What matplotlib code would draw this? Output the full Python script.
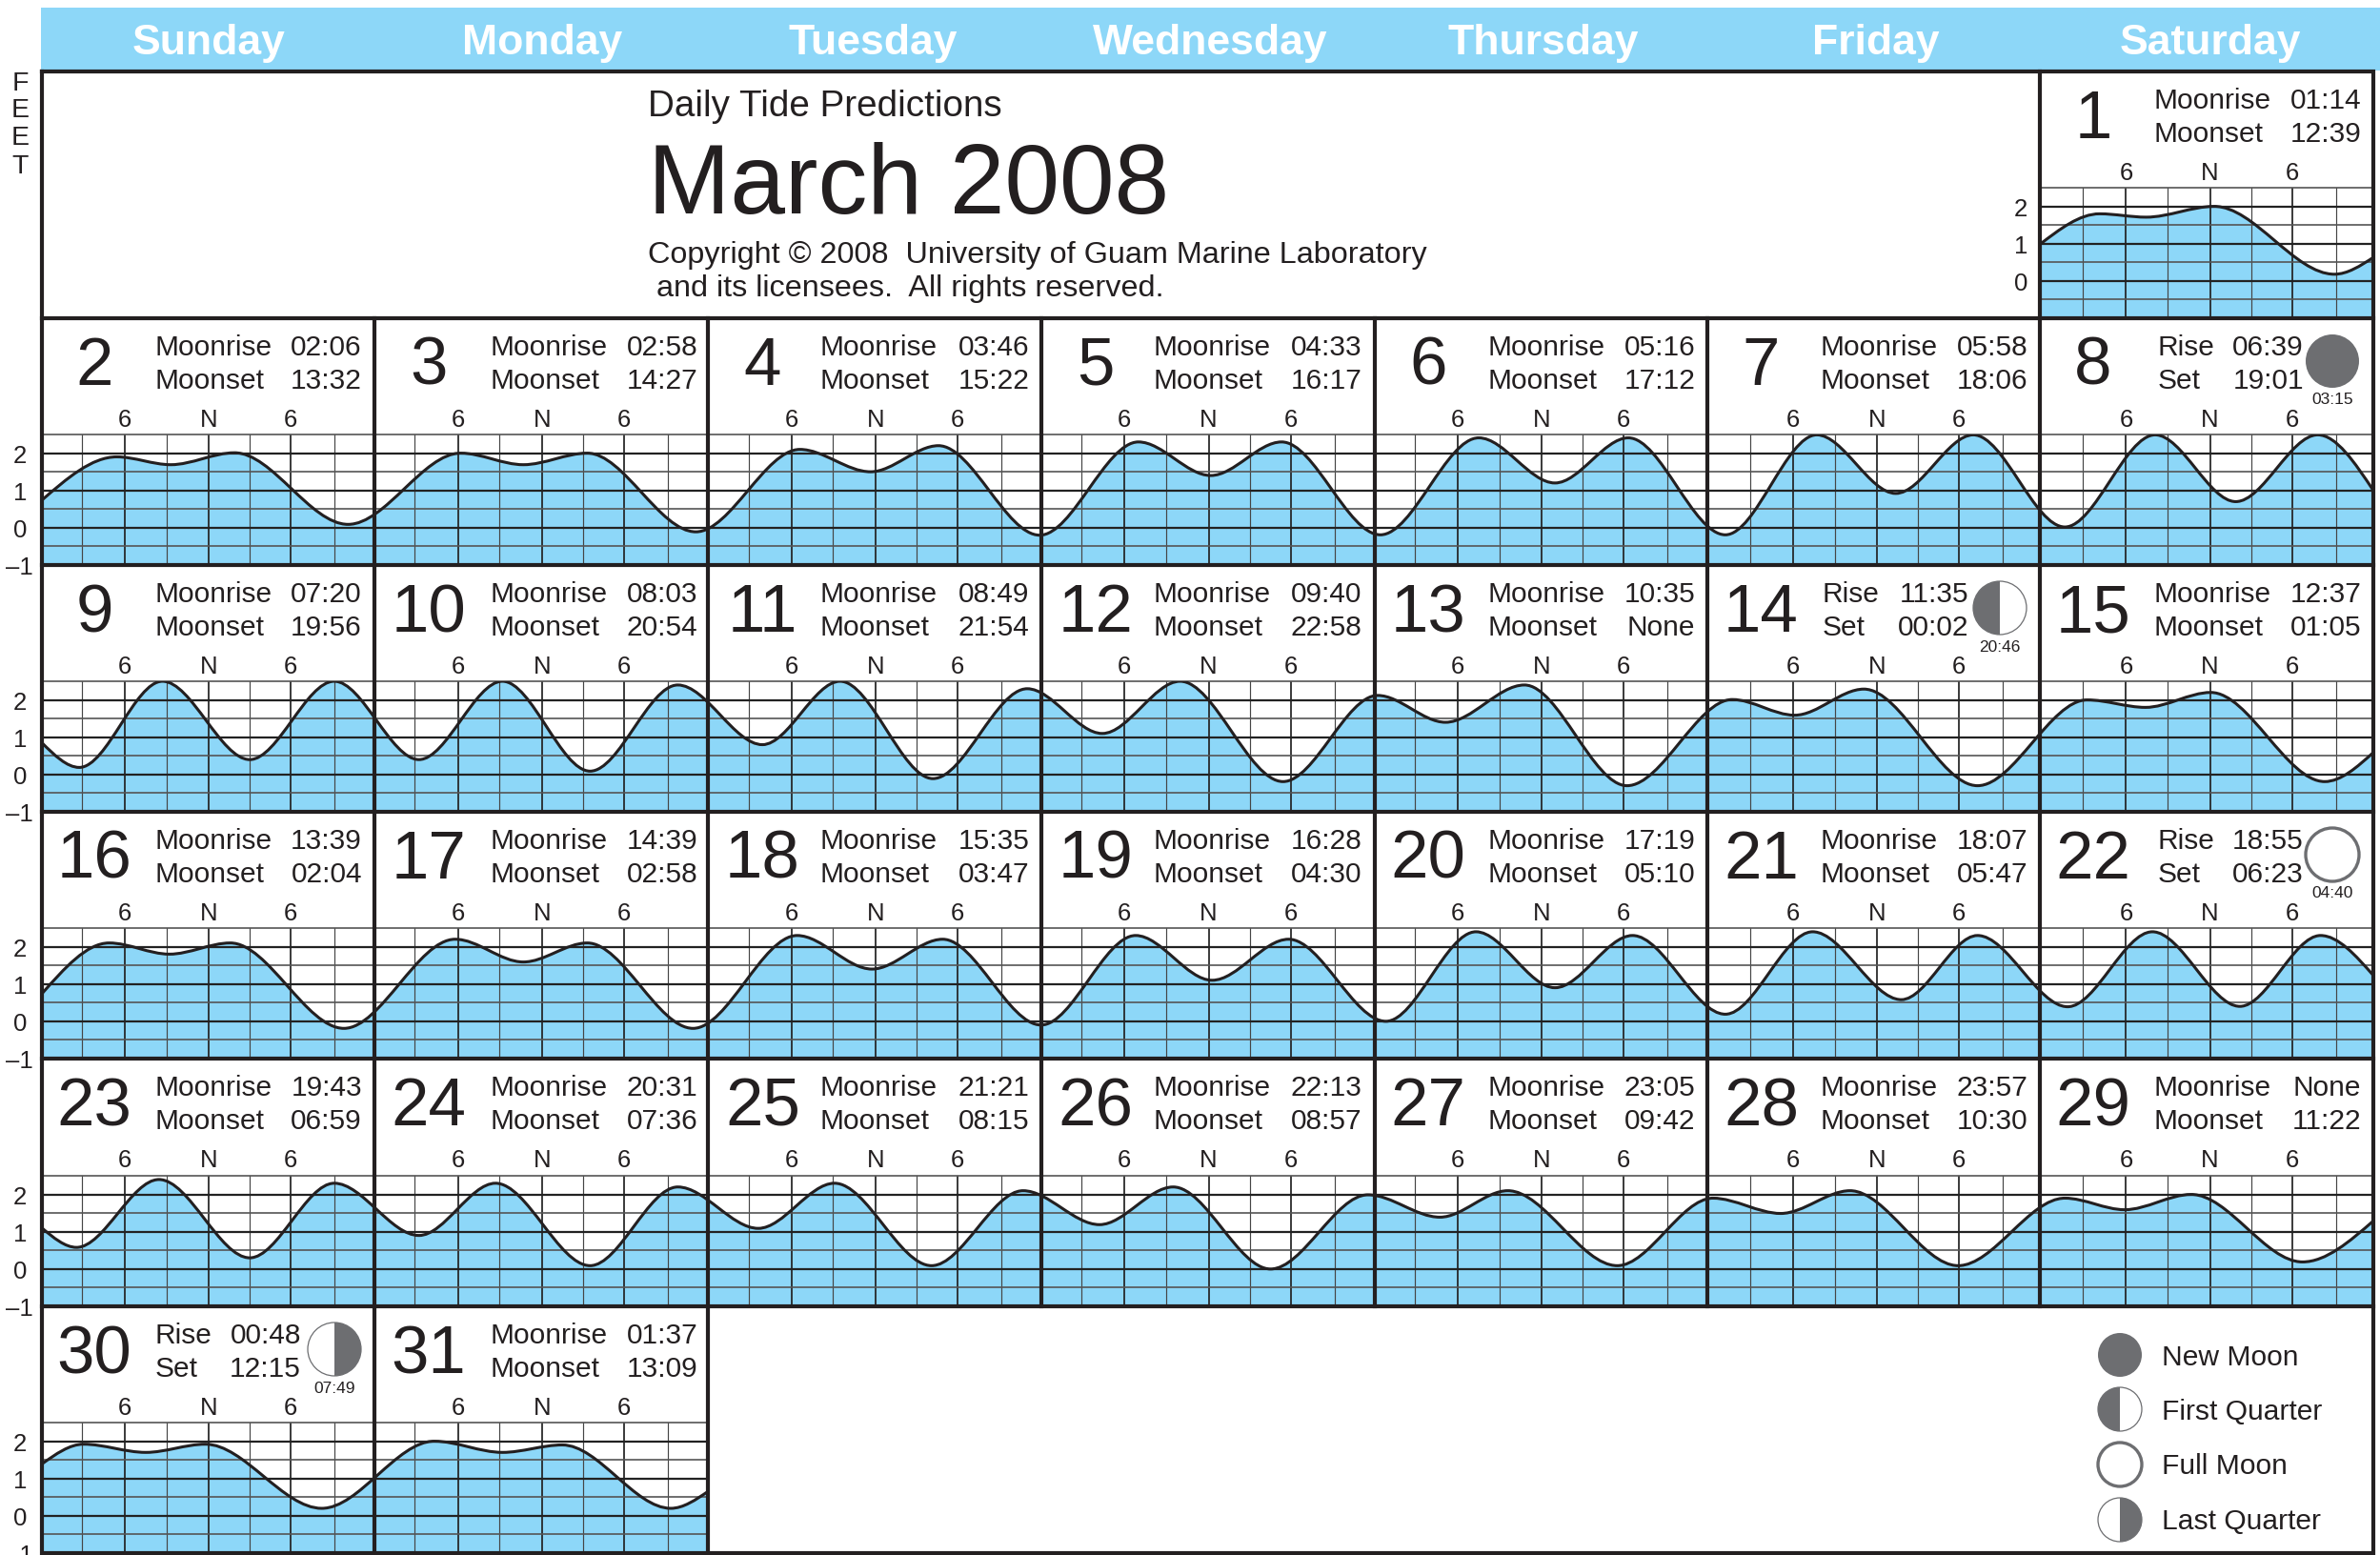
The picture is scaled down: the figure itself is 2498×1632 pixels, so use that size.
import matplotlib
matplotlib.use("Agg")
import matplotlib.pyplot as plt
from matplotlib.path import Path
from matplotlib.patches import PathPatch, Circle, Wedge, Rectangle

plt.rcParams['font.family'] = ['Liberation Sans', 'DejaVu Sans']

W, H = 2498, 1632
INK = '#231F20'
BLUE = '#8DD7F8'
MOON = '#6D6E71'

WEEKDAYS = ['Sunday', 'Monday', 'Tuesday', 'Wednesday', 'Thursday', 'Friday', 'Saturday']
WEEKDAY_X = [219, 569, 916, 1270, 1620, 1969, 2320]

MOONRISE = ['01:14', '02:06', '02:58', '03:46', '04:33', '05:16', '05:58', '06:39', '07:20', '08:03', '08:49',
            '09:40', '10:35', '11:35', '12:37', '13:39', '14:39', '15:35', '16:28', '17:19', '18:07', '18:55',
            '19:43', '20:31', '21:21', '22:13', '23:05', '23:57', 'None', '00:48', '01:37']
MOONSET = ['12:39', '13:32', '14:27', '15:22', '16:17', '17:12', '18:06', '19:01', '19:56', '20:54', '21:54',
           '22:58', 'None', '00:02', '01:05', '02:04', '02:58', '03:47', '04:30', '05:10', '05:47', '06:23',
           '06:59', '07:36', '08:15', '08:57', '09:42', '10:30', '11:22', '12:15', '13:09']
PHASE_DAYS = {8: ('new', '03:15'), 14: ('first', '20:46'), 22: ('full', '04:40'), 30: ('last', '07:49')}
LEGEND = [('new', 'New Moon'), ('first', 'First Quarter'), ('full', 'Full Moon'), ('last', 'Last Quarter')]

# Turning points of the tide, hours from Sunday 00:00 of each calendar row, and feet.
ROW0_T = [144, 148.3, 151.65, 156.55, 165.2, 168]
ROW0_H = [0.98, 1.80, 1.71, 2.00, 0.18, 0.63]
ROW1_T = [0, 5.4, 9.3, 13.9, 22.1, 30.2, 34.7, 39.3, 47.1, 54.6, 59.7, 64.6, 71.9, 79.0, 84.2, 89.3, 96.4,
          103.5, 109.0, 114.3, 121.3, 127.9, 133.6, 139.2, 145.8, 152.3, 158.1, 164.0, 168]
ROW1_H = [0.74, 1.90, 1.69, 2.01, 0.09, 2.00, 1.69, 2.00, -0.11, 2.10, 1.50, 2.20, -0.20, 2.30, 1.40, 2.30, -0.19,
          2.41, 1.20, 2.41, -0.19, 2.49, 0.92, 2.49, 0.02, 2.49, 0.70, 2.49, 1.00]
ROW2_T = [0, 2.7, 8.7, 15.0, 21.1, 27.2, 33.2, 39.5, 45.8, 51.9, 57.5, 64.2, 71.0, 76.4, 82.0, 89.4, 96.2,
          101.1, 106.8, 114.2, 121.8, 126.3, 131.3, 139.5, 147.4, 151.6, 156.3, 164.5, 168]
ROW2_H = [0.85, 0.19, 2.50, 0.40, 2.50, 0.40, 2.50, 0.09, 2.40, 0.80, 2.50, -0.11, 2.30, 1.10, 2.50, -0.19, 2.12,
          1.40, 2.40, -0.30, 2.01, 1.59, 2.29, -0.30, 2.00, 1.80, 2.20, -0.19, 0.59]
ROW3_T = [0, 4.85, 9.2, 13.6, 21.8, 29.8, 34.7, 39.3, 46.9, 54.4, 59.8, 64.9, 72.0, 78.8, 84.3, 89.8, 96.8,
          103.3, 109.0, 114.6, 121.3, 127.6, 134.0, 139.5, 146.0, 152.1, 158.4, 164.2, 168]
ROW3_H = [0.74, 2.10, 1.80, 2.10, -0.19, 2.20, 1.59, 2.10, -0.19, 2.30, 1.40, 2.20, -0.10, 2.30, 1.10, 2.20, 0.00,
          2.40, 0.90, 2.30, 0.19, 2.40, 0.58, 2.30, 0.39, 2.40, 0.40, 2.30, 1.23]
ROW4_T = [0, 2.5, 8.45, 15.0, 21.1, 27.2, 32.7, 39.5, 45.8, 51.6, 57.1, 64.1, 70.7, 76.2, 81.5, 88.5, 95.5,
          100.7, 105.6, 113.5, 120.4, 125.3, 130.3, 138.1, 145.8, 150.1, 154.9, 162.9, 168]
ROW4_H = [1.10, 0.58, 2.40, 0.30, 2.30, 0.90, 2.30, 0.09, 2.20, 1.09, 2.30, 0.09, 2.10, 1.19, 2.20, 0.00, 1.99,
          1.39, 2.10, 0.09, 1.90, 1.49, 2.10, 0.09, 1.90, 1.59, 2.00, 0.19, 1.29]
ROW5_T = [0, 3.0, 7.5, 11.8, 20.2, 28.3, 33.2, 37.5, 45.3, 48]
ROW5_H = [1.39, 1.92, 1.70, 1.92, 0.20, 2.00, 1.70, 1.90, 0.20, 0.66]
ROWS_T = [ROW0_T, ROW1_T, ROW2_T, ROW3_T, ROW4_T, ROW5_T]
ROWS_H = [ROW0_H, ROW1_H, ROW2_H, ROW3_H, ROW4_H, ROW5_H]

GRID_HOURS_MAJOR = [6.0, 12.05, 17.95]
GRID_HOURS_MINOR = [2.9, 9.0, 15.0, 21.1]
HOUR_LABELS = ['6', 'N', '6']
FEET_MAJOR = [0, 1, 2]
FEET_MINOR = [-0.5, 0.5, 1.5, 2.5]

COL_X = [44, 393, 743.5, 1092.7, 1443, 1792, 2141, 2491]
ROW_Y = [75, 334, 593, 852, 1111, 1371, 1630]
CHART_H = 137
# small per-column nudges of the text, in pixels
LABEL_NUDGE = [0, 2.5, -1.5, -1, 0, 0, 1]
TIME_NUDGE = [1, 3, 1.5, 0.5, 1.5, 1.5, 1.5]
PHASE_NUDGE = [-2, 0, 0, 0, 0, 0, 3]
NUMBER_NUDGE = [-1, 1, 1, 1, 0, 0.5, 0]


def tide_path(t, h):
    verts = [(t[0], h[0])]
    codes = [Path.MOVETO]
    n = len(t)
    for i in range(n - 1):
        dt = t[i + 1] - t[i]
        dh = h[i + 1] - h[i]
        y1 = h[i] + (0.5 * dh if i == 0 else 0)
        y2 = h[i + 1] - (0.5 * dh if i == n - 2 else 0)
        verts += [(t[i] + dt / 3, y1), (t[i + 1] - dt / 3, y2), (t[i + 1], h[i + 1])]
        codes += [Path.CURVE4] * 3
    return verts, codes


fig = plt.figure(figsize=(W / 100, H / 100), dpi=100, facecolor='white')

for day in range(1, 32):
    idx = day + 5
    row, col = idx // 7, idx % 7
    x0, x1 = COL_X[col], COL_X[col + 1]
    y1 = ROW_Y[row + 1]
    ax = fig.add_axes([x0 / W, 1 - y1 / H, (x1 - x0) / W, CHART_H / H], zorder=1)
    ax.set_xlim(24 * col, 24 * (col + 1))
    ax.set_ylim(-1, 2.5)
    ax.axis('off')
    v, c = tide_path(ROWS_T[row], ROWS_H[row])
    fill_v = v + [(v[-1][0], -1), (v[0][0], -1), (v[0][0], -1)]
    fill_c = c + [Path.LINETO, Path.LINETO, Path.CLOSEPOLY]
    ax.add_patch(PathPatch(Path(fill_v, fill_c), facecolor=BLUE, edgecolor='none', zorder=1))
    sat = 0.2 if col >= 5 else 0
    for f in GRID_HOURS_MINOR:
        ax.axvline(24 * col + f + sat, color='#454545', lw=0.85, zorder=2)
    for f in GRID_HOURS_MAJOR:
        ax.axvline(24 * col + f + sat, color='#222222', lw=1.25, zorder=2)
    for y in FEET_MINOR:
        ax.axhline(y, color='#555555', lw=1.2, zorder=2, clip_on=False)
    for y in FEET_MAJOR:
        ax.axhline(y, color='#222222', lw=1.6, zorder=2)
    ax.add_patch(PathPatch(Path(v, c), facecolor='none', edgecolor=INK, lw=2.2, zorder=3, capstyle='butt'))

ov = fig.add_axes([0, 0, 1, 1], zorder=5)
ov.set_xlim(0, W)
ov.set_ylim(H, 0)
ov.axis('off')
ov.patch.set_alpha(0)

ov.add_patch(Rectangle((43, 8), W - 43, 66, facecolor=BLUE, edgecolor='none'))
for name, x in zip(WEEKDAYS, WEEKDAY_X):
    ov.text(x, 45, name, color='white', fontsize=32, fontweight='bold', ha='center', va='center')

LW = 3.0
# frame and cell rules
ov.plot([COL_X[0], COL_X[-1], COL_X[-1], COL_X[0], COL_X[0]], [ROW_Y[0], ROW_Y[0], ROW_Y[-1], ROW_Y[-1], ROW_Y[0]],
        color=INK, lw=LW, solid_joinstyle='miter')
for y in ROW_Y[1:-1]:
    ov.plot([COL_X[0], COL_X[-1]], [y, y], color=INK, lw=LW)
for x in COL_X[1:-1]:
    ov.plot([x, x], [ROW_Y[1], ROW_Y[5]], color=INK, lw=LW)
ov.plot([COL_X[6], COL_X[6]], [ROW_Y[0], ROW_Y[1]], color=INK, lw=LW)
for x in COL_X[1:3]:
    ov.plot([x, x], [ROW_Y[5], ROW_Y[6]], color=INK, lw=LW)


def moon(kind, cx, cy, r):
    if kind == 'new':
        ov.add_patch(Circle((cx, cy), r, facecolor=MOON, edgecolor='none'))
    elif kind == 'full':
        ov.add_patch(Circle((cx, cy), r, facecolor='white', edgecolor=MOON, lw=2.4))
    else:
        ov.add_patch(Circle((cx, cy), r, facecolor='white', edgecolor=MOON, lw=0.9))
        a, b = (90, 270) if kind == 'first' else (270, 450)
        ov.add_patch(Wedge((cx, cy), r, a, b, facecolor=MOON, edgecolor='none'))


for day in range(1, 32):
    idx = day + 5
    row, col = idx // 7, idx % 7
    x0, x1 = COL_X[col], COL_X[col + 1]
    y0 = ROW_Y[row]
    ov.text(x0 + 56 + NUMBER_NUDGE[col], y0 + 70, str(day), color=INK, fontsize=51, ha='center', va='baseline')
    rise, sett = MOONRISE[day - 1], MOONSET[day - 1]
    if day in PHASE_DAYS:
        kind, when = PHASE_DAYS[day]
        dx = PHASE_NUDGE[col]
        ov.text(x0 + 121 + dx, y0 + 39, 'Rise', color=INK, fontsize=21.5, va='baseline')
        ov.text(x0 + 121 + dx, y0 + 74, 'Set', color=INK, fontsize=21.5, va='baseline')
        ov.text(x0 + 274 + dx, y0 + 39, rise, color=INK, fontsize=21.5, ha='right', va='baseline')
        ov.text(x0 + 274 + dx, y0 + 74, sett, color=INK, fontsize=21.5, ha='right', va='baseline')
        moon(kind, x0 + 307, y0 + 45, 28)
        ov.text(x0 + 307, y0 + 86, when, color=INK, fontsize=12.5, ha='center', va='center')
    else:
        ov.text(x0 + 119 + LABEL_NUDGE[col], y0 + 39, 'Moonrise', color=INK, fontsize=21.5, va='baseline')
        ov.text(x0 + 119 + LABEL_NUDGE[col], y0 + 74, 'Moonset', color=INK, fontsize=21.5, va='baseline')
        ov.text(x1 - 14 + TIME_NUDGE[col], y0 + 39, rise, color=INK, fontsize=21.5, ha='right', va='baseline')
        ov.text(x1 - 14 + TIME_NUDGE[col], y0 + 74, sett, color=INK, fontsize=21.5, ha='right', va='baseline')
    sat = 0.2 if col >= 5 else 0
    for lab, f in zip(HOUR_LABELS, GRID_HOURS_MAJOR):
        ov.text(x0 + (f + sat) / 24 * (x1 - x0), y0 + 107, lab, color=INK, fontsize=18.5, ha='center', va='center')

# feet scale
for r in range(1, 6):
    yb = ROW_Y[r + 1]
    for val, lab in [(2, '2'), (1, '1'), (0, '0'), (-1, '\u20131')]:
        y = yb - (val + 1) / 3.5 * CHART_H + 3
        if lab == '\u20131':
            ov.text(35, y, lab, color=INK, fontsize=18.5, ha='right', va='center')
        else:
            ov.text(21, y, lab, color=INK, fontsize=18.5, ha='center', va='center')
yb = ROW_Y[1]
for val, lab in [(2, '2'), (1, '1'), (0, '0')]:
    ov.text(2121, yb - (val + 1) / 3.5 * CHART_H + 3, lab, color=INK, fontsize=18.5, ha='center', va='center')

for lab, y in zip('FEET', [88, 116, 145, 175]):
    ov.text(21, y, lab, color=INK, fontsize=20.5, ha='center', va='center')

# title block
ov.text(680, 122.5, 'Daily Tide Predictions', color=INK, fontsize=27.8, va='baseline')
ov.text(680, 224, 'March 2008', color=INK, fontsize=74.6, va='baseline')
ov.text(680, 276, 'Copyright \u00a9 2008  University of Guam Marine Laboratory', color=INK, fontsize=23.3, va='baseline')
ov.text(689, 311, 'and its licensees.  All rights reserved.', color=INK, fontsize=23.3, va='baseline')

# legend
for (kind, lab), cy, base in zip(LEGEND, [1422, 1479, 1537, 1595], [1433, 1490, 1547, 1605]):
    moon(kind, 2225, cy, 23)
    ov.text(2269, base, lab, color=INK, fontsize=21.6, va='baseline')

fig.savefig('out.png', dpi=100)
